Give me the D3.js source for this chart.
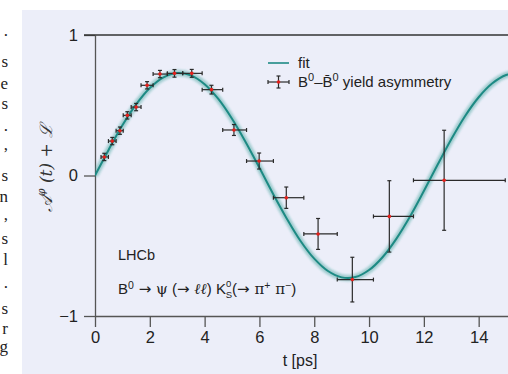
<!DOCTYPE html>
<html>
<head>
<meta charset="utf-8">
<script src="https://cdn.jsdelivr.net/npm/d3@7"></script>
<style>
  body { margin: 0; background: #fff; }
  svg { display: block; font-family: "Liberation Sans", Arial, sans-serif; }
</style>
</head>
<body>
<svg id="chart" width="508" height="374"></svg>
<script>
// measured bins: mean decay time, asymmetry, stat error, bin edges
const times = [0.34, 0.63, 0.91, 1.18, 1.50, 1.90, 2.37, 2.90, 3.53, 4.25, 5.07, 5.99, 6.98, 8.14, 9.39, 10.74, 12.74];
const asym = [0.132, 0.245, 0.319, 0.428, 0.487, 0.642, 0.722, 0.727, 0.727, 0.611, 0.324, 0.103, -0.158, -0.416, -0.741, -0.291, -0.034];
const asymErr = [0.026, 0.026, 0.026, 0.026, 0.026, 0.026, 0.026, 0.027, 0.028, 0.031, 0.039, 0.057, 0.076, 0.110, 0.159, 0.254, 0.356];
const binLo = [0.22, 0.49, 0.77, 1.03, 1.32, 1.68, 2.12, 2.64, 3.20, 3.91, 4.66, 5.53, 6.51, 7.62, 8.84, 10.16, 11.62];
const binHi = [0.49, 0.77, 1.03, 1.32, 1.68, 2.12, 2.64, 3.20, 3.91, 4.66, 5.53, 6.51, 7.62, 8.84, 10.16, 11.62, 14.97];

// fit curve
const fitT = [0, 0.5, 1, 1.5, 2, 2.5, 3, 3.5, 4, 4.5, 5, 5.5, 6, 6.5, 7, 7.5, 8, 8.5, 9, 9.5, 10, 10.5, 11, 11.5, 12, 12.5, 13, 13.5, 14, 14.5, 15, 15.5];
const fitA = [0, 0.184, 0.357, 0.506, 0.623, 0.699, 0.730, 0.713, 0.650, 0.545, 0.404, 0.237, 0.055, -0.131, -0.307, -0.466, -0.592, -0.680, -0.725, -0.723, -0.673, -0.580, -0.449, -0.290, -0.110, 0.076, 0.258, 0.422, 0.557, 0.656, 0.715, 0.728];

const xTicks = [0, 2, 4, 6, 8, 10, 12, 14];
const yTicks = [-1, 0, 1];

// ends of the neighbouring text column (cut off at the left)
const sideChars = ['.', 's', 'e', 's', '.', ',', 's', 'n', ',', 's', 'l', '.', 's', 'r', 'g'];
const sideY = [36, 67, 89, 109, 131, 150, 181, 202, 220, 244, 265, 288, 314, 334, 352];

const svg = d3.select('#chart');
const width = 508, height = 374;

const x = d3.scaleLinear().domain([0, 15.07]).range([95, 508]);
const y = d3.scaleLinear().domain([-1, 1]).range([316, 35]);

// background panel
svg.append('rect')
  .attr('x', 22).attr('y', 10)
  .attr('width', width - 22).attr('height', height - 10)
  .attr('fill', '#eceef9');

svg.append('g')
  .attr('font-family', '"Liberation Serif", "DejaVu Serif", serif')
  .attr('font-size', 17)
  .attr('fill', '#222')
  .selectAll('text')
  .data(sideChars)
  .join('text')
  .attr('x', 8)
  .attr('y', (d, i) => sideY[i])
  .attr('text-anchor', 'end')
  .text(d => d);

const defs = svg.append('defs');
defs.append('clipPath').attr('id', 'plot-clip')
  .append('rect')
  .attr('x', x(0)).attr('y', 0)
  .attr('width', width - x(0)).attr('height', y(-1));
defs.append('filter').attr('id', 'blur')
  .attr('x', '-10%').attr('y', '-10%').attr('width', '120%').attr('height', '120%')
  .append('feGaussianBlur').attr('stdDeviation', 1.3);

// axes
const xAxis = svg.append('g')
  .attr('transform', `translate(0,${y(-1)})`)
  .call(d3.axisBottom(x).tickValues(xTicks).tickSize(11).tickSizeOuter(0).tickPadding(4));
const yAxis = svg.append('g')
  .attr('transform', `translate(${x(0)},0)`)
  .call(d3.axisLeft(y).tickValues(yTicks).tickSize(11).tickSizeOuter(0).tickPadding(6)
    .tickFormat(d => d < 0 ? '\u2212' + Math.abs(d) : d));

[xAxis, yAxis].forEach(g => {
  g.selectAll('path, line').attr('stroke', '#555').attr('stroke-width', 1.3);
  g.selectAll('text').attr('font-size', 16.5).attr('fill', '#222');
});

// top frame line
svg.append('line')
  .attr('x1', x(0) - 11).attr('x2', width)
  .attr('y1', y(1)).attr('y2', y(1))
  .attr('stroke', '#333').attr('stroke-width', 1.3);

// fit with its uncertainty band
const fitData = fitT.map((t, i) => [t, fitA[i]]);
const line = d3.line().x(d => x(d[0])).y(d => y(d[1])).curve(d3.curveCatmullRom);
const plot = svg.append('g').attr('clip-path', 'url(#plot-clip)');
plot.append('path')
  .attr('d', line(fitData))
  .attr('fill', 'none')
  .attr('stroke', '#2c9a92')
  .attr('stroke-opacity', 0.4)
  .attr('stroke-width', 6.5)
  .attr('filter', 'url(#blur)');
plot.append('path')
  .attr('d', line(fitData))
  .attr('fill', 'none')
  .attr('stroke', '#1d8a84')
  .attr('stroke-width', 2);

// data points with error bars
const pts = times.map((t, i) => ({ t, a: asym[i], e: asymErr[i], lo: binLo[i], hi: binHi[i] }));
const errCol = '#2a2a2a';
const pg = plot.selectAll('g.pt').data(pts).join('g').attr('class', 'pt');
pg.append('line')
  .attr('x1', d => x(d.lo)).attr('x2', d => x(d.hi))
  .attr('y1', d => y(d.a)).attr('y2', d => y(d.a));
pg.append('line')
  .attr('x1', d => x(d.t)).attr('x2', d => x(d.t))
  .attr('y1', d => y(d.a + d.e)).attr('y2', d => y(d.a - d.e));
// caps
pg.append('line')
  .attr('x1', d => x(d.lo)).attr('x2', d => x(d.lo))
  .attr('y1', d => y(d.a) - 2).attr('y2', d => y(d.a) + 2);
pg.append('line')
  .attr('x1', d => x(d.hi)).attr('x2', d => x(d.hi))
  .attr('y1', d => y(d.a) - 2).attr('y2', d => y(d.a) + 2);
pg.append('line')
  .attr('x1', d => x(d.t) - 2).attr('x2', d => x(d.t) + 2)
  .attr('y1', d => y(d.a + d.e)).attr('y2', d => y(d.a + d.e));
pg.append('line')
  .attr('x1', d => x(d.t) - 2).attr('x2', d => x(d.t) + 2)
  .attr('y1', d => y(d.a - d.e)).attr('y2', d => y(d.a - d.e));
pg.selectAll('line').attr('stroke', errCol).attr('stroke-width', 1.2);
pg.append('circle')
  .attr('cx', d => x(d.t)).attr('cy', d => y(d.a))
  .attr('r', 1.8)
  .attr('fill', '#e3201b');

// legend
const legend = svg.append('g').attr('font-size', 15).attr('fill', '#222');
legend.append('line')
  .attr('x1', 268).attr('x2', 289).attr('y1', 63).attr('y2', 63)
  .attr('stroke', '#1d8a84').attr('stroke-width', 1.6);
legend.append('text').attr('x', 298).attr('y', 68).text('fit');
const lm = legend.append('g').attr('stroke', errCol).attr('stroke-width', 1.2);
lm.append('line').attr('x1', 268).attr('x2', 289).attr('y1', 82).attr('y2', 82);
lm.append('line').attr('x1', 278.5).attr('x2', 278.5).attr('y1', 76).attr('y2', 88);
lm.append('line').attr('x1', 268).attr('x2', 268).attr('y1', 80).attr('y2', 84);
lm.append('line').attr('x1', 289).attr('x2', 289).attr('y1', 80).attr('y2', 84);
lm.append('line').attr('x1', 276.5).attr('x2', 280.5).attr('y1', 76).attr('y2', 76);
lm.append('line').attr('x1', 276.5).attr('x2', 280.5).attr('y1', 88).attr('y2', 88);
legend.append('circle').attr('cx', 278.5).attr('cy', 82).attr('r', 1.8).attr('fill', '#e3201b');
const lt = legend.append('text').attr('x', 298).attr('y', 87);
lt.append('tspan').text('B');
lt.append('tspan').attr('dy', -6).attr('font-size', 11).text('0');
lt.append('tspan').attr('dy', 6).text('\u2013B\u0304');
lt.append('tspan').attr('dy', -6).attr('font-size', 11).text('0');
lt.append('tspan').attr('dy', 6).text(' yield asymmetry');

// annotations
svg.append('text')
  .attr('x', 118).attr('y', 260)
  .attr('font-size', 14.5).attr('fill', '#222')
  .text('LHCb');
const arrowFont = '"DejaVu Sans", sans-serif';
const greekFont = '"DejaVu Serif", "Liberation Serif", serif';
const dec = svg.append('text')
  .attr('x', 118).attr('y', 294)
  .attr('font-size', 15).attr('fill', '#222');
dec.append('tspan').text('B');
dec.append('tspan').attr('dy', -5).attr('font-size', 10.5).text('0');
dec.append('tspan').attr('dy', 5).attr('font-family', arrowFont).text(' \u2192 ');
dec.append('tspan').attr('font-family', greekFont).text('\u03c8');
dec.append('tspan').text(' (');
dec.append('tspan').attr('font-family', arrowFont).text('\u2192 ');
dec.append('tspan').attr('font-family', greekFont).attr('font-style', 'italic').text('\u2113\u2113');
dec.append('tspan').text(') K');
dec.append('tspan').attr('dy', -7).attr('font-size', 9.5).text('0');
dec.append('tspan').attr('dx', -5.5).attr('dy', 11).attr('font-size', 9.5).text('S');
dec.append('tspan').attr('dy', -4).text('(');
dec.append('tspan').attr('font-family', arrowFont).text('\u2192 ');
dec.append('tspan').attr('font-family', greekFont).text('\u03c0');
dec.append('tspan').attr('dy', -5).attr('font-size', 10.5).text('+');
dec.append('tspan').attr('dy', 5).attr('font-family', greekFont).text(' \u03c0');
dec.append('tspan').attr('dy', -5).attr('font-size', 10.5).text('\u2212');
dec.append('tspan').attr('dy', 5).text(')');

// axis titles
svg.append('text')
  .attr('x', 300).attr('y', 366)
  .attr('text-anchor', 'middle')
  .attr('font-size', 16).attr('fill', '#222')
  .text('t [ps]');

const yl = svg.append('text')
  .attr('transform', 'translate(52,168) rotate(-90)')
  .attr('text-anchor', 'middle')
  .attr('font-family', '"DejaVu Serif", "Liberation Serif", serif')
  .attr('font-style', 'italic')
  .attr('font-size', 17).attr('fill', '#333');
yl.append('tspan').text('\ud835\udc9c');
yl.append('tspan').attr('dy', -7).attr('font-size', 11).text('\u03c6');
yl.append('tspan').attr('dy', 7).text(' (t) + \u2112');
</script>
</body>
</html>
